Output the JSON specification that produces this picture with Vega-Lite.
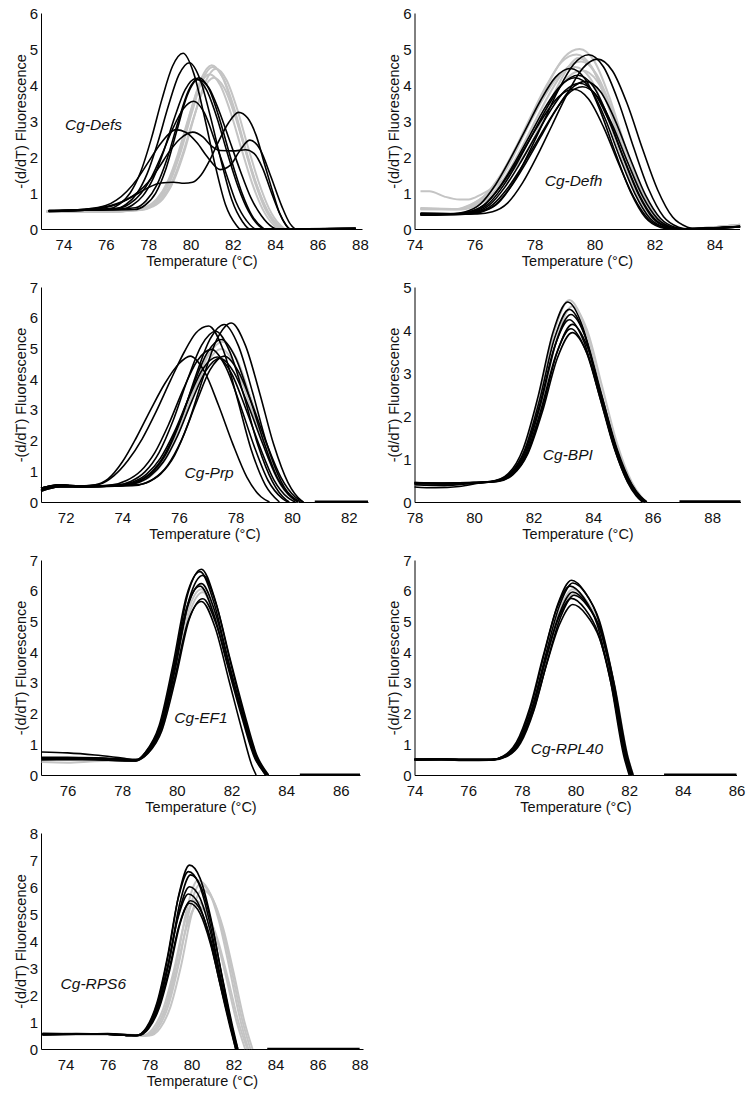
{
"$schema": "https://vega.github.io/schema/vega-lite/v6.json",
"padding": {"left": 13, "top": 6, "right": 5, "bottom": 5},
"config": {
 "view": {"stroke": null},
 "axis": {"grid": false, "ticks": false, "domainColor": "#000", "domainWidth": 1, "labelFont": "Liberation Sans", "titleFont": "Liberation Sans", "labelFontSize": 15, "titleFontSize": 14.5, "titleFontWeight": "normal", "labelColor": "#111", "titleColor": "#111", "labelFlush": false, "labelOverlap": false},
 "axisX": {"labelPadding": 8.5, "titlePadding": 2},
 "axisY": {"labelPadding": 3.5, "titlePadding": 1},
 "text": {"font": "Liberation Sans", "fontStyle": "italic", "fontSize": 15.5, "color": "#111"}
},
"datasets": {
"defs": [
{"c":"g1","t":73.2,"v":0.48},{"c":"g1","t":76,"v":0.48},{"c":"g1","t":77.5,"v":0.53},{"c":"g1","t":78,"v":0.62},{"c":"g1","t":78.5,"v":0.85},{"c":"g1","t":79,"v":1.35},{"c":"g1","t":79.5,"v":2.18},{"c":"g1","t":80,"v":3.24},{"c":"g1","t":80.5,"v":4.17},{"c":"g1","t":81,"v":4.55},{"c":"g1","t":81.5,"v":4.23},{"c":"g1","t":82,"v":3.41},{"c":"g1","t":82.5,"v":2.37},{"c":"g1","t":83,"v":1.37},{"c":"g1","t":83.5,"v":0.59},{"c":"g1","t":84,"v":0.14},{"c":"g1","t":84.3,"v":0},{"c":"g1","t":87.8,"v":0},
{"c":"g2","t":73.2,"v":0.5},{"c":"g2","t":76,"v":0.5},{"c":"g2","t":77.7,"v":0.53},{"c":"g2","t":78.2,"v":0.62},{"c":"g2","t":78.7,"v":0.84},{"c":"g2","t":79.2,"v":1.33},{"c":"g2","t":79.7,"v":2.14},{"c":"g2","t":80.2,"v":3.17},{"c":"g2","t":80.7,"v":4.08},{"c":"g2","t":81.2,"v":4.45},{"c":"g2","t":81.7,"v":4.14},{"c":"g2","t":82.2,"v":3.34},{"c":"g2","t":82.7,"v":2.31},{"c":"g2","t":83.2,"v":1.34},{"c":"g2","t":83.7,"v":0.58},{"c":"g2","t":84.2,"v":0.13},{"c":"g2","t":84.5,"v":0},{"c":"g2","t":87.8,"v":0},
{"c":"g3","t":73.2,"v":0.47},{"c":"g3","t":76,"v":0.47},{"c":"g3","t":77.4,"v":0.53},{"c":"g3","t":77.9,"v":0.61},{"c":"g3","t":78.4,"v":0.83},{"c":"g3","t":78.9,"v":1.29},{"c":"g3","t":79.4,"v":2.07},{"c":"g3","t":79.9,"v":3.07},{"c":"g3","t":80.4,"v":3.95},{"c":"g3","t":80.9,"v":4.3},{"c":"g3","t":81.4,"v":4.0},{"c":"g3","t":81.9,"v":3.23},{"c":"g3","t":82.4,"v":2.24},{"c":"g3","t":82.9,"v":1.29},{"c":"g3","t":83.4,"v":0.56},{"c":"g3","t":83.9,"v":0.13},{"c":"g3","t":84.2,"v":0},{"c":"g3","t":87.8,"v":0},
{"c":"g4","t":73.2,"v":0.49},{"c":"g4","t":76,"v":0.49},{"c":"g4","t":77.6,"v":0.53},{"c":"g4","t":78.1,"v":0.61},{"c":"g4","t":78.6,"v":0.82},{"c":"g4","t":79.1,"v":1.27},{"c":"g4","t":79.6,"v":2.03},{"c":"g4","t":80.1,"v":3.0},{"c":"g4","t":80.6,"v":3.86},{"c":"g4","t":81.1,"v":4.2},{"c":"g4","t":81.6,"v":3.91},{"c":"g4","t":82.1,"v":3.15},{"c":"g4","t":82.6,"v":2.18},{"c":"g4","t":83.1,"v":1.26},{"c":"g4","t":83.6,"v":0.55},{"c":"g4","t":84.1,"v":0.13},{"c":"g4","t":84.4,"v":0},{"c":"g4","t":87.8,"v":0},
{"c":"g5","t":73.2,"v":0.48},{"c":"g5","t":76,"v":0.48},{"c":"g5","t":77.55,"v":0.53},{"c":"g5","t":78.05,"v":0.62},{"c":"g5","t":78.55,"v":0.85},{"c":"g5","t":79.05,"v":1.34},{"c":"g5","t":79.55,"v":2.16},{"c":"g5","t":80.05,"v":3.2},{"c":"g5","t":80.55,"v":4.13},{"c":"g5","t":81.05,"v":4.5},{"c":"g5","t":81.55,"v":4.19},{"c":"g5","t":82.05,"v":3.38},{"c":"g5","t":82.55,"v":2.34},{"c":"g5","t":83.05,"v":1.35},{"c":"g5","t":83.55,"v":0.59},{"c":"g5","t":84.05,"v":0.14},{"c":"g5","t":84.35,"v":0},{"c":"g5","t":87.8,"v":0},
{"c":"b1","t":73.3,"v":0.5},{"c":"b1","t":75,"v":0.52},{"c":"b1","t":76.15,"v":0.56},{"c":"b1","t":76.65,"v":0.69},{"c":"b1","t":77.15,"v":1.0},{"c":"b1","t":77.65,"v":1.59},{"c":"b1","t":78.15,"v":2.51},{"c":"b1","t":78.65,"v":3.6},{"c":"b1","t":79.15,"v":4.52},{"c":"b1","t":79.65,"v":4.88},{"c":"b1","t":80.15,"v":4.33},{"c":"b1","t":80.65,"v":3.14},{"c":"b1","t":81.15,"v":1.81},{"c":"b1","t":81.65,"v":0.68},{"c":"b1","t":82.15,"v":0.12},{"c":"b1","t":82.35,"v":0},{"c":"b1","t":87.8,"v":0.01},
{"c":"b2","t":73.3,"v":0.52},{"c":"b2","t":75,"v":0.53},{"c":"b2","t":76.45,"v":0.56},{"c":"b2","t":76.95,"v":0.68},{"c":"b2","t":77.45,"v":0.97},{"c":"b2","t":77.95,"v":1.53},{"c":"b2","t":78.45,"v":2.39},{"c":"b2","t":78.95,"v":3.41},{"c":"b2","t":79.45,"v":4.28},{"c":"b2","t":79.95,"v":4.62},{"c":"b2","t":80.45,"v":4.16},{"c":"b2","t":80.95,"v":3.1},{"c":"b2","t":81.45,"v":1.89},{"c":"b2","t":81.95,"v":0.81},{"c":"b2","t":82.45,"v":0.21},{"c":"b2","t":82.8,"v":0},{"c":"b2","t":87.8,"v":0.01},
{"c":"b3","t":73.3,"v":0.48},{"c":"b3","t":75,"v":0.52},{"c":"b3","t":76.75,"v":0.55},{"c":"b3","t":77.25,"v":0.66},{"c":"b3","t":77.75,"v":0.92},{"c":"b3","t":78.25,"v":1.42},{"c":"b3","t":78.75,"v":2.19},{"c":"b3","t":79.25,"v":3.1},{"c":"b3","t":79.75,"v":3.87},{"c":"b3","t":80.25,"v":4.18},{"c":"b3","t":80.75,"v":3.87},{"c":"b3","t":81.25,"v":3.09},{"c":"b3","t":81.75,"v":2.09},{"c":"b3","t":82.25,"v":1.17},{"c":"b3","t":82.75,"v":0.48},{"c":"b3","t":83.25,"v":0.08},{"c":"b3","t":83.5,"v":0},{"c":"b3","t":87.8,"v":0.01},
{"c":"b4","t":73.3,"v":0.5},{"c":"b4","t":75,"v":0.52},{"c":"b4","t":77.4,"v":0.59},{"c":"b4","t":77.9,"v":0.78},{"c":"b4","t":78.4,"v":1.21},{"c":"b4","t":78.9,"v":1.96},{"c":"b4","t":79.4,"v":2.95},{"c":"b4","t":79.9,"v":3.84},{"c":"b4","t":80.4,"v":4.2},{"c":"b4","t":80.9,"v":3.86},{"c":"b4","t":81.4,"v":3.0},{"c":"b4","t":81.9,"v":1.97},{"c":"b4","t":82.4,"v":1.05},{"c":"b4","t":82.9,"v":0.38},{"c":"b4","t":83.4,"v":0.04},{"c":"b4","t":83.5,"v":0},{"c":"b4","t":87.8,"v":0.01},
{"c":"b5","t":73.3,"v":0.5},{"c":"b5","t":75,"v":0.52},{"c":"b5","t":77.35,"v":0.54},{"c":"b5","t":77.85,"v":0.66},{"c":"b5","t":78.35,"v":0.99},{"c":"b5","t":78.85,"v":1.69},{"c":"b5","t":79.35,"v":2.72},{"c":"b5","t":79.85,"v":3.72},{"c":"b5","t":80.35,"v":4.15},{"c":"b5","t":80.85,"v":3.94},{"c":"b5","t":81.35,"v":3.28},{"c":"b5","t":81.85,"v":2.45},{"c":"b5","t":82.35,"v":1.62},{"c":"b5","t":82.85,"v":0.87},{"c":"b5","t":83.35,"v":0.37},{"c":"b5","t":83.85,"v":0.06},{"c":"b5","t":84.05,"v":0},{"c":"b5","t":87.8,"v":0.01},
{"c":"b6","t":73.3,"v":0.5},{"c":"b6","t":75,"v":0.53},{"c":"b6","t":76.65,"v":0.58},{"c":"b6","t":77.15,"v":0.71},{"c":"b6","t":77.65,"v":0.98},{"c":"b6","t":78.15,"v":1.43},{"c":"b6","t":78.65,"v":2.07},{"c":"b6","t":79.15,"v":2.77},{"c":"b6","t":79.65,"v":3.33},{"c":"b6","t":80.15,"v":3.55},{"c":"b6","t":80.65,"v":3.23},{"c":"b6","t":81.15,"v":2.45},{"c":"b6","t":81.65,"v":1.6},{"c":"b6","t":82.15,"v":0.75},{"c":"b6","t":82.65,"v":0.23},{"c":"b6","t":83.1,"v":0},{"c":"b6","t":87.8,"v":0.01},
{"c":"b7","t":73.3,"v":0.5},{"c":"b7","t":75,"v":0.55},{"c":"b7","t":76,"v":0.65},{"c":"b7","t":76.5,"v":0.8},{"c":"b7","t":77,"v":1.05},{"c":"b7","t":77.5,"v":1.4},{"c":"b7","t":78,"v":1.85},{"c":"b7","t":78.5,"v":2.3},{"c":"b7","t":79,"v":2.65},{"c":"b7","t":79.3,"v":2.76},{"c":"b7","t":79.8,"v":2.68},{"c":"b7","t":80.3,"v":2.4},{"c":"b7","t":80.8,"v":2.0},{"c":"b7","t":81.4,"v":1.65},{"c":"b7","t":81.9,"v":1.78},{"c":"b7","t":82.3,"v":2.15},{"c":"b7","t":82.8,"v":2.47},{"c":"b7","t":83.3,"v":2.2},{"c":"b7","t":83.8,"v":1.45},{"c":"b7","t":84.3,"v":0.65},{"c":"b7","t":84.7,"v":0.15},{"c":"b7","t":85,"v":0},{"c":"b7","t":87.8,"v":0.01},
{"c":"b8","t":73.3,"v":0.5},{"c":"b8","t":75,"v":0.53},{"c":"b8","t":76,"v":0.6},{"c":"b8","t":76.5,"v":0.68},{"c":"b8","t":77,"v":0.82},{"c":"b8","t":77.5,"v":1.02},{"c":"b8","t":78,"v":1.3},{"c":"b8","t":78.5,"v":1.7},{"c":"b8","t":79,"v":2.15},{"c":"b8","t":79.5,"v":2.5},{"c":"b8","t":80.1,"v":2.69},{"c":"b8","t":80.6,"v":2.55},{"c":"b8","t":81,"v":2.3},{"c":"b8","t":81.4,"v":2.18},{"c":"b8","t":82,"v":2.17},{"c":"b8","t":82.6,"v":2.2},{"c":"b8","t":83,"v":2.1},{"c":"b8","t":83.4,"v":1.7},{"c":"b8","t":83.8,"v":1.05},{"c":"b8","t":84.2,"v":0.45},{"c":"b8","t":84.5,"v":0.12},{"c":"b8","t":84.7,"v":0},{"c":"b8","t":87.8,"v":0.01},
{"c":"b9","t":73.3,"v":0.5},{"c":"b9","t":75,"v":0.55},{"c":"b9","t":76,"v":0.62},{"c":"b9","t":76.5,"v":0.7},{"c":"b9","t":77,"v":0.82},{"c":"b9","t":77.5,"v":0.98},{"c":"b9","t":78,"v":1.15},{"c":"b9","t":78.6,"v":1.28},{"c":"b9","t":79.2,"v":1.3},{"c":"b9","t":79.7,"v":1.27},{"c":"b9","t":80.1,"v":1.3},{"c":"b9","t":80.5,"v":1.5},{"c":"b9","t":80.9,"v":1.9},{"c":"b9","t":81.3,"v":2.4},{"c":"b9","t":81.8,"v":2.95},{"c":"b9","t":82.27,"v":3.24},{"c":"b9","t":82.7,"v":3.08},{"c":"b9","t":83.1,"v":2.6},{"c":"b9","t":83.5,"v":1.8},{"c":"b9","t":83.9,"v":1.0},{"c":"b9","t":84.2,"v":0.45},{"c":"b9","t":84.5,"v":0.12},{"c":"b9","t":84.7,"v":0},{"c":"b9","t":87.8,"v":0.01}
],
"defh": [
{"c":"g1","t":74.2,"v":0.58},{"c":"g1","t":75.5,"v":0.55},{"c":"g1","t":76,"v":0.68},{"c":"g1","t":76.5,"v":0.99},{"c":"g1","t":77,"v":1.57},{"c":"g1","t":77.5,"v":2.37},{"c":"g1","t":78,"v":3.26},{"c":"g1","t":78.5,"v":4.11},{"c":"g1","t":79,"v":4.78},{"c":"g1","t":79.5,"v":5.0},{"c":"g1","t":80,"v":4.65},{"c":"g1","t":80.5,"v":3.65},{"c":"g1","t":81,"v":2.35},{"c":"g1","t":81.5,"v":1.15},{"c":"g1","t":82,"v":0.35},{"c":"g1","t":82.5,"v":0.05},{"c":"g1","t":83,"v":0},{"c":"g1","t":84,"v":0.05},{"c":"g1","t":84.85,"v":0.12},
{"c":"g2","t":74.2,"v":0.57},{"c":"g2","t":75.4,"v":0.55},{"c":"g2","t":75.9,"v":0.68},{"c":"g2","t":76.4,"v":0.98},{"c":"g2","t":76.9,"v":1.54},{"c":"g2","t":77.4,"v":2.31},{"c":"g2","t":77.9,"v":3.17},{"c":"g2","t":78.4,"v":3.99},{"c":"g2","t":78.9,"v":4.64},{"c":"g2","t":79.4,"v":4.85},{"c":"g2","t":79.9,"v":4.51},{"c":"g2","t":80.4,"v":3.54},{"c":"g2","t":80.9,"v":2.28},{"c":"g2","t":81.4,"v":1.12},{"c":"g2","t":81.9,"v":0.34},{"c":"g2","t":82.4,"v":0.05},{"c":"g2","t":82.9,"v":0},{"c":"g2","t":84,"v":0.05},{"c":"g2","t":84.85,"v":0.12},
{"c":"g3","t":74.2,"v":0.56},{"c":"g3","t":75.55,"v":0.55},{"c":"g3","t":76.05,"v":0.67},{"c":"g3","t":76.55,"v":0.94},{"c":"g3","t":77.05,"v":1.49},{"c":"g3","t":77.55,"v":2.23},{"c":"g3","t":78.05,"v":3.05},{"c":"g3","t":78.55,"v":3.83},{"c":"g3","t":79.05,"v":4.45},{"c":"g3","t":79.55,"v":4.65},{"c":"g3","t":80.05,"v":4.32},{"c":"g3","t":80.55,"v":3.39},{"c":"g3","t":81.05,"v":2.19},{"c":"g3","t":81.55,"v":1.07},{"c":"g3","t":82.05,"v":0.33},{"c":"g3","t":82.55,"v":0.05},{"c":"g3","t":83,"v":0},{"c":"g3","t":84,"v":0.05},{"c":"g3","t":84.85,"v":0.11},
{"c":"g4","t":74.2,"v":0.55},{"c":"g4","t":75.35,"v":0.55},{"c":"g4","t":75.85,"v":0.67},{"c":"g4","t":76.35,"v":0.93},{"c":"g4","t":76.85,"v":1.46},{"c":"g4","t":77.35,"v":2.17},{"c":"g4","t":77.85,"v":2.96},{"c":"g4","t":78.35,"v":3.71},{"c":"g4","t":78.85,"v":4.3},{"c":"g4","t":79.35,"v":4.5},{"c":"g4","t":79.85,"v":4.19},{"c":"g4","t":80.35,"v":3.29},{"c":"g4","t":80.85,"v":2.12},{"c":"g4","t":81.35,"v":1.04},{"c":"g4","t":81.85,"v":0.32},{"c":"g4","t":82.35,"v":0.05},{"c":"g4","t":82.8,"v":0},{"c":"g4","t":84,"v":0.04},{"c":"g4","t":84.85,"v":0.1},
{"c":"g5","t":74.2,"v":0.55},{"c":"g5","t":75.6,"v":0.55},{"c":"g5","t":76.1,"v":0.67},{"c":"g5","t":76.6,"v":0.94},{"c":"g5","t":77.1,"v":1.44},{"c":"g5","t":77.6,"v":2.13},{"c":"g5","t":78.1,"v":2.9},{"c":"g5","t":78.6,"v":3.63},{"c":"g5","t":79.1,"v":4.21},{"c":"g5","t":79.6,"v":4.4},{"c":"g5","t":80.1,"v":4.09},{"c":"g5","t":80.6,"v":3.21},{"c":"g5","t":81.1,"v":2.07},{"c":"g5","t":81.6,"v":1.01},{"c":"g5","t":82.1,"v":0.31},{"c":"g5","t":82.6,"v":0.04},{"c":"g5","t":83,"v":0},{"c":"g5","t":84,"v":0.05},{"c":"g5","t":84.85,"v":0.11},
{"c":"g6","t":74.2,"v":1.05},{"c":"g6","t":74.5,"v":1.05},{"c":"g6","t":75,"v":0.9},{"c":"g6","t":75.5,"v":0.82},{"c":"g6","t":75.8,"v":0.82},{"c":"g6","t":76.2,"v":0.95},{"c":"g6","t":76.7,"v":1.2},{"c":"g6","t":77.2,"v":1.55},{"c":"g6","t":77.7,"v":2.1},{"c":"g6","t":78.2,"v":2.9},{"c":"g6","t":78.7,"v":3.85},{"c":"g6","t":79.2,"v":4.58},{"c":"g6","t":79.45,"v":4.75},{"c":"g6","t":79.95,"v":4.42},{"c":"g6","t":80.45,"v":3.47},{"c":"g6","t":80.95,"v":2.23},{"c":"g6","t":81.45,"v":1.09},{"c":"g6","t":81.95,"v":0.33},{"c":"g6","t":82.45,"v":0.05},{"c":"g6","t":82.9,"v":0},{"c":"g6","t":84,"v":0.05},{"c":"g6","t":84.85,"v":0.12},
{"c":"b1","t":74.2,"v":0.4},{"c":"b1","t":75.2,"v":0.42},{"c":"b1","t":75.7,"v":0.48},{"c":"b1","t":76.2,"v":0.7},{"c":"b1","t":76.7,"v":1.23},{"c":"b1","t":77.2,"v":1.96},{"c":"b1","t":77.7,"v":2.76},{"c":"b1","t":78.2,"v":3.57},{"c":"b1","t":78.7,"v":4.22},{"c":"b1","t":79.2,"v":4.46},{"c":"b1","t":79.7,"v":4.15},{"c":"b1","t":80.2,"v":3.26},{"c":"b1","t":80.7,"v":2.1},{"c":"b1","t":81.2,"v":1.03},{"c":"b1","t":81.7,"v":0.31},{"c":"b1","t":82.2,"v":0.04},{"c":"b1","t":82.5,"v":0},{"c":"b1","t":84.85,"v":0.07},
{"c":"b2","t":74.2,"v":0.38},{"c":"b2","t":75.8,"v":0.42},{"c":"b2","t":76.3,"v":0.49},{"c":"b2","t":76.8,"v":0.73},{"c":"b2","t":77.3,"v":1.3},{"c":"b2","t":77.8,"v":2.1},{"c":"b2","t":78.3,"v":2.98},{"c":"b2","t":78.8,"v":3.87},{"c":"b2","t":79.3,"v":4.57},{"c":"b2","t":79.8,"v":4.84},{"c":"b2","t":80.3,"v":4.5},{"c":"b2","t":80.8,"v":3.53},{"c":"b2","t":81.3,"v":2.27},{"c":"b2","t":81.8,"v":1.11},{"c":"b2","t":82.3,"v":0.34},{"c":"b2","t":82.8,"v":0.05},{"c":"b2","t":83.1,"v":0},{"c":"b2","t":84.85,"v":0.07},
{"c":"b3","t":74.2,"v":0.4},{"c":"b3","t":76.1,"v":0.42},{"c":"b3","t":76.6,"v":0.48},{"c":"b3","t":77.1,"v":0.72},{"c":"b3","t":77.6,"v":1.28},{"c":"b3","t":78.1,"v":2.05},{"c":"b3","t":78.6,"v":2.91},{"c":"b3","t":79.1,"v":3.77},{"c":"b3","t":79.6,"v":4.46},{"c":"b3","t":80.1,"v":4.72},{"c":"b3","t":80.6,"v":4.39},{"c":"b3","t":81.1,"v":3.45},{"c":"b3","t":81.6,"v":2.22},{"c":"b3","t":82.1,"v":1.09},{"c":"b3","t":82.6,"v":0.33},{"c":"b3","t":83.1,"v":0.05},{"c":"b3","t":83.4,"v":0},{"c":"b3","t":84.85,"v":0.08},
{"c":"b4","t":74.2,"v":0.42},{"c":"b4","t":75.35,"v":0.42},{"c":"b4","t":75.85,"v":0.48},{"c":"b4","t":76.35,"v":0.68},{"c":"b4","t":76.85,"v":1.18},{"c":"b4","t":77.35,"v":1.86},{"c":"b4","t":77.85,"v":2.61},{"c":"b4","t":78.35,"v":3.37},{"c":"b4","t":78.85,"v":3.97},{"c":"b4","t":79.35,"v":4.2},{"c":"b4","t":79.85,"v":3.91},{"c":"b4","t":80.35,"v":3.07},{"c":"b4","t":80.85,"v":1.97},{"c":"b4","t":81.35,"v":0.97},{"c":"b4","t":81.85,"v":0.29},{"c":"b4","t":82.35,"v":0.04},{"c":"b4","t":82.65,"v":0},{"c":"b4","t":84.85,"v":0.06},
{"c":"b5","t":74.2,"v":0.43},{"c":"b5","t":75.5,"v":0.42},{"c":"b5","t":76,"v":0.47},{"c":"b5","t":76.5,"v":0.67},{"c":"b5","t":77,"v":1.15},{"c":"b5","t":77.5,"v":1.8},{"c":"b5","t":78,"v":2.53},{"c":"b5","t":78.5,"v":3.25},{"c":"b5","t":79,"v":3.83},{"c":"b5","t":79.5,"v":4.05},{"c":"b5","t":80,"v":3.77},{"c":"b5","t":80.5,"v":2.96},{"c":"b5","t":81,"v":1.9},{"c":"b5","t":81.5,"v":0.93},{"c":"b5","t":82,"v":0.28},{"c":"b5","t":82.5,"v":0.04},{"c":"b5","t":82.8,"v":0},{"c":"b5","t":84.85,"v":0.06},
{"c":"b6","t":74.2,"v":0.44},{"c":"b6","t":75.6,"v":0.42},{"c":"b6","t":76.1,"v":0.47},{"c":"b6","t":76.6,"v":0.67},{"c":"b6","t":77.1,"v":1.13},{"c":"b6","t":77.6,"v":1.76},{"c":"b6","t":78.1,"v":2.47},{"c":"b6","t":78.6,"v":3.17},{"c":"b6","t":79.1,"v":3.74},{"c":"b6","t":79.6,"v":3.95},{"c":"b6","t":80.1,"v":3.67},{"c":"b6","t":80.6,"v":2.88},{"c":"b6","t":81.1,"v":1.86},{"c":"b6","t":81.6,"v":0.91},{"c":"b6","t":82.1,"v":0.28},{"c":"b6","t":82.6,"v":0.04},{"c":"b6","t":82.9,"v":0},{"c":"b6","t":84.85,"v":0.06},
{"c":"b7","t":74.2,"v":0.42},{"c":"b7","t":75.3,"v":0.42},{"c":"b7","t":75.8,"v":0.47},{"c":"b7","t":76.3,"v":0.66},{"c":"b7","t":76.8,"v":1.11},{"c":"b7","t":77.3,"v":1.73},{"c":"b7","t":77.8,"v":2.43},{"c":"b7","t":78.3,"v":3.12},{"c":"b7","t":78.8,"v":3.67},{"c":"b7","t":79.3,"v":3.88},{"c":"b7","t":79.8,"v":3.61},{"c":"b7","t":80.3,"v":2.83},{"c":"b7","t":80.8,"v":1.82},{"c":"b7","t":81.3,"v":0.89},{"c":"b7","t":81.8,"v":0.27},{"c":"b7","t":82.3,"v":0.04},{"c":"b7","t":82.6,"v":0},{"c":"b7","t":84.85,"v":0.06},
{"c":"b8","t":74.2,"v":0.41},{"c":"b8","t":75.7,"v":0.42},{"c":"b8","t":76.2,"v":0.48},{"c":"b8","t":76.7,"v":0.68},{"c":"b8","t":77.2,"v":1.16},{"c":"b8","t":77.7,"v":1.82},{"c":"b8","t":78.2,"v":2.55},{"c":"b8","t":78.7,"v":3.29},{"c":"b8","t":79.2,"v":3.88},{"c":"b8","t":79.7,"v":4.1},{"c":"b8","t":80.2,"v":3.81},{"c":"b8","t":80.7,"v":2.99},{"c":"b8","t":81.2,"v":1.93},{"c":"b8","t":81.7,"v":0.94},{"c":"b8","t":82.2,"v":0.29},{"c":"b8","t":82.7,"v":0.04},{"c":"b8","t":83,"v":0},{"c":"b8","t":84.85,"v":0.07},
{"c":"b9","t":74.2,"v":0.4},{"c":"b9","t":75.45,"v":0.42},{"c":"b9","t":75.95,"v":0.48},{"c":"b9","t":76.45,"v":0.69},{"c":"b9","t":76.95,"v":1.19},{"c":"b9","t":77.45,"v":1.88},{"c":"b9","t":77.95,"v":2.65},{"c":"b9","t":78.45,"v":3.42},{"c":"b9","t":78.95,"v":4.04},{"c":"b9","t":79.45,"v":4.27},{"c":"b9","t":79.95,"v":3.97},{"c":"b9","t":80.45,"v":3.12},{"c":"b9","t":80.95,"v":2.01},{"c":"b9","t":81.45,"v":0.98},{"c":"b9","t":81.95,"v":0.29},{"c":"b9","t":82.45,"v":0.04},{"c":"b9","t":82.75,"v":0},{"c":"b9","t":84.85,"v":0.07}
],
"prp": [
{"c":"g1","t":71.13,"v":0.45},{"c":"g1","t":71.8,"v":0.55},{"c":"g1","t":72.5,"v":0.5},{"c":"g1","t":74.05,"v":0.55},{"c":"g1","t":74.55,"v":0.66},{"c":"g1","t":75.05,"v":0.94},{"c":"g1","t":75.55,"v":1.54},{"c":"g1","t":76.05,"v":2.52},{"c":"g1","t":76.55,"v":3.73},{"c":"g1","t":77.05,"v":4.8},{"c":"g1","t":77.55,"v":5.22},{"c":"g1","t":78.05,"v":4.64},{"c":"g1","t":78.55,"v":3.36},{"c":"g1","t":79.05,"v":1.93},{"c":"g1","t":79.55,"v":0.73},{"c":"g1","t":80.05,"v":0.13},{"c":"g1","t":80.25,"v":0},
{"c":"g2","t":71.13,"v":0.4},{"c":"g2","t":71.8,"v":0.5},{"c":"g2","t":72.5,"v":0.5},{"c":"g2","t":74,"v":0.53},{"c":"g2","t":74.5,"v":0.61},{"c":"g2","t":75,"v":0.84},{"c":"g2","t":75.5,"v":1.36},{"c":"g2","t":76,"v":2.27},{"c":"g2","t":76.5,"v":3.47},{"c":"g2","t":77,"v":4.54},{"c":"g2","t":77.5,"v":4.98},{"c":"g2","t":78,"v":4.42},{"c":"g2","t":78.5,"v":3.2},{"c":"g2","t":79,"v":1.84},{"c":"g2","t":79.5,"v":0.7},{"c":"g2","t":80,"v":0.12},{"c":"g2","t":80.2,"v":0},
{"c":"b1","t":71.13,"v":0.45},{"c":"b1","t":71.8,"v":0.56},{"c":"b1","t":72.5,"v":0.52},{"c":"b1","t":73,"v":0.55},{"c":"b1","t":73.5,"v":0.75},{"c":"b1","t":74,"v":1.3},{"c":"b1","t":74.5,"v":2.1},{"c":"b1","t":75,"v":3.0},{"c":"b1","t":75.5,"v":3.85},{"c":"b1","t":76,"v":4.5},{"c":"b1","t":76.4,"v":4.75},{"c":"b1","t":76.9,"v":4.25},{"c":"b1","t":77.4,"v":3.15},{"c":"b1","t":77.9,"v":1.9},{"c":"b1","t":78.4,"v":0.81},{"c":"b1","t":78.9,"v":0.17},{"c":"b1","t":79.2,"v":0},
{"c":"b2","t":71.13,"v":0.45},{"c":"b2","t":71.8,"v":0.55},{"c":"b2","t":72.5,"v":0.52},{"c":"b2","t":73.2,"v":0.58},{"c":"b2","t":73.7,"v":0.85},{"c":"b2","t":74.2,"v":1.35},{"c":"b2","t":74.7,"v":2.05},{"c":"b2","t":75.2,"v":2.95},{"c":"b2","t":75.7,"v":3.95},{"c":"b2","t":76.2,"v":4.9},{"c":"b2","t":76.6,"v":5.5},{"c":"b2","t":77.05,"v":5.73},{"c":"b2","t":77.55,"v":4.99},{"c":"b2","t":78.05,"v":3.42},{"c":"b2","t":78.55,"v":1.72},{"c":"b2","t":79.05,"v":0.56},{"c":"b2","t":79.55,"v":0},
{"c":"b3","t":71.13,"v":0.4},{"c":"b3","t":71.8,"v":0.55},{"c":"b3","t":72.5,"v":0.5},{"c":"b3","t":73.8,"v":0.55},{"c":"b3","t":74.3,"v":0.67},{"c":"b3","t":74.8,"v":0.98},{"c":"b3","t":75.3,"v":1.61},{"c":"b3","t":75.8,"v":2.66},{"c":"b3","t":76.3,"v":3.97},{"c":"b3","t":76.8,"v":5.1},{"c":"b3","t":77.3,"v":5.56},{"c":"b3","t":77.8,"v":4.89},{"c":"b3","t":78.3,"v":3.45},{"c":"b3","t":78.8,"v":1.83},{"c":"b3","t":79.3,"v":0.67},{"c":"b3","t":79.8,"v":0.06},{"c":"b3","t":79.9,"v":0},
{"c":"b4","t":71.13,"v":0.45},{"c":"b4","t":71.8,"v":0.55},{"c":"b4","t":72.5,"v":0.5},{"c":"b4","t":74.1,"v":0.55},{"c":"b4","t":74.6,"v":0.67},{"c":"b4","t":75.1,"v":1.0},{"c":"b4","t":75.6,"v":1.66},{"c":"b4","t":76.1,"v":2.75},{"c":"b4","t":76.6,"v":4.12},{"c":"b4","t":77.1,"v":5.3},{"c":"b4","t":77.6,"v":5.78},{"c":"b4","t":78.1,"v":5.09},{"c":"b4","t":78.6,"v":3.58},{"c":"b4","t":79.1,"v":1.91},{"c":"b4","t":79.6,"v":0.69},{"c":"b4","t":80.1,"v":0.06},{"c":"b4","t":80.2,"v":0},
{"c":"b5","t":71.13,"v":0.35},{"c":"b5","t":71.8,"v":0.5},{"c":"b5","t":72.5,"v":0.5},{"c":"b5","t":74.35,"v":0.53},{"c":"b5","t":74.85,"v":0.63},{"c":"b5","t":75.35,"v":0.91},{"c":"b5","t":75.85,"v":1.52},{"c":"b5","t":76.35,"v":2.61},{"c":"b5","t":76.85,"v":4.03},{"c":"b5","t":77.35,"v":5.31},{"c":"b5","t":77.85,"v":5.83},{"c":"b5","t":78.35,"v":5.1},{"c":"b5","t":78.85,"v":3.56},{"c":"b5","t":79.35,"v":1.87},{"c":"b5","t":79.85,"v":0.64},{"c":"b5","t":80.35,"v":0.03},{"c":"b5","t":80.4,"v":0},
{"c":"b6","t":71.13,"v":0.4},{"c":"b6","t":71.8,"v":0.5},{"c":"b6","t":72.5,"v":0.5},{"c":"b6","t":74,"v":0.55},{"c":"b6","t":74.5,"v":0.66},{"c":"b6","t":75,"v":0.95},{"c":"b6","t":75.5,"v":1.55},{"c":"b6","t":76,"v":2.55},{"c":"b6","t":76.5,"v":3.78},{"c":"b6","t":77,"v":4.86},{"c":"b6","t":77.5,"v":5.29},{"c":"b6","t":78,"v":4.7},{"c":"b6","t":78.5,"v":3.4},{"c":"b6","t":79,"v":1.96},{"c":"b6","t":79.5,"v":0.74},{"c":"b6","t":80,"v":0.13},{"c":"b6","t":80.2,"v":0},
{"c":"b7","t":71.13,"v":0.45},{"c":"b7","t":71.8,"v":0.55},{"c":"b7","t":72.5,"v":0.5},{"c":"b7","t":73.65,"v":0.56},{"c":"b7","t":74.15,"v":0.7},{"c":"b7","t":74.65,"v":1.01},{"c":"b7","t":75.15,"v":1.61},{"c":"b7","t":75.65,"v":2.55},{"c":"b7","t":76.15,"v":3.66},{"c":"b7","t":76.65,"v":4.6},{"c":"b7","t":77.15,"v":4.97},{"c":"b7","t":77.65,"v":4.41},{"c":"b7","t":78.15,"v":3.2},{"c":"b7","t":78.65,"v":1.84},{"c":"b7","t":79.15,"v":0.7},{"c":"b7","t":79.65,"v":0.12},{"c":"b7","t":79.85,"v":0},
{"c":"b8","t":71.13,"v":0.4},{"c":"b8","t":71.8,"v":0.5},{"c":"b8","t":72.5,"v":0.5},{"c":"b8","t":73.85,"v":0.54},{"c":"b8","t":74.35,"v":0.64},{"c":"b8","t":74.85,"v":0.9},{"c":"b8","t":75.35,"v":1.43},{"c":"b8","t":75.85,"v":2.3},{"c":"b8","t":76.35,"v":3.39},{"c":"b8","t":76.85,"v":4.34},{"c":"b8","t":77.35,"v":4.72},{"c":"b8","t":77.85,"v":4.2},{"c":"b8","t":78.35,"v":3.07},{"c":"b8","t":78.85,"v":1.82},{"c":"b8","t":79.35,"v":0.73},{"c":"b8","t":79.85,"v":0.14},{"c":"b8","t":80.1,"v":0},
{"c":"b9","t":71.13,"v":0.35},{"c":"b9","t":71.8,"v":0.5},{"c":"b9","t":72.5,"v":0.5},{"c":"b9","t":73.95,"v":0.53},{"c":"b9","t":74.45,"v":0.6},{"c":"b9","t":74.95,"v":0.82},{"c":"b9","t":75.45,"v":1.3},{"c":"b9","t":75.95,"v":2.15},{"c":"b9","t":76.45,"v":3.27},{"c":"b9","t":76.95,"v":4.27},{"c":"b9","t":77.45,"v":4.68},{"c":"b9","t":77.95,"v":4.21},{"c":"b9","t":78.45,"v":3.14},{"c":"b9","t":78.95,"v":1.92},{"c":"b9","t":79.45,"v":0.82},{"c":"b9","t":79.95,"v":0.21},{"c":"b9","t":80.3,"v":0},
{"c":"b10","t":71.13,"v":0.45},{"c":"b10","t":71.8,"v":0.55},{"c":"b10","t":72.5,"v":0.5},{"c":"b10","t":74.6,"v":0.57},{"c":"b10","t":75.1,"v":0.75},{"c":"b10","t":75.6,"v":1.19},{"c":"b10","t":76.1,"v":2.03},{"c":"b10","t":76.6,"v":3.2},{"c":"b10","t":77.1,"v":4.3},{"c":"b10","t":77.6,"v":4.75},{"c":"b10","t":78.1,"v":4.25},{"c":"b10","t":78.6,"v":3.15},{"c":"b10","t":79.1,"v":1.9},{"c":"b10","t":79.6,"v":0.81},{"c":"b10","t":80.1,"v":0.17},{"c":"b10","t":80.4,"v":0},
{"c":"z","t":80.8,"v":0.02},{"c":"z","t":82.68,"v":0.02}
],
"bpi": [
{"c":"g1","t":78,"v":0.4},{"c":"g1","t":79,"v":0.42},{"c":"g1","t":80,"v":0.45},{"c":"g1","t":80.7,"v":0.49},{"c":"g1","t":81.2,"v":0.67},{"c":"g1","t":81.7,"v":1.25},{"c":"g1","t":82.2,"v":2.47},{"c":"g1","t":82.7,"v":3.98},{"c":"g1","t":83.2,"v":4.7},{"c":"g1","t":83.7,"v":4.12},{"c":"g1","t":84.2,"v":2.77},{"c":"g1","t":84.7,"v":1.41},{"c":"g1","t":85.2,"v":0.47},{"c":"g1","t":85.5,"v":0.14},{"c":"g1","t":85.7,"v":0},
{"c":"g2","t":78,"v":0.42},{"c":"g2","t":80,"v":0.45},{"c":"g2","t":80.8,"v":0.49},{"c":"g2","t":81.3,"v":0.66},{"c":"g2","t":81.8,"v":1.23},{"c":"g2","t":82.3,"v":2.4},{"c":"g2","t":82.8,"v":3.85},{"c":"g2","t":83.3,"v":4.55},{"c":"g2","t":83.8,"v":3.99},{"c":"g2","t":84.3,"v":2.69},{"c":"g2","t":84.8,"v":1.37},{"c":"g2","t":85.3,"v":0.46},{"c":"g2","t":85.6,"v":0.14},{"c":"g2","t":85.8,"v":0},
{"c":"b1","t":78,"v":0.45},{"c":"b1","t":79,"v":0.42},{"c":"b1","t":80,"v":0.45},{"c":"b1","t":80.65,"v":0.49},{"c":"b1","t":81.15,"v":0.66},{"c":"b1","t":81.65,"v":1.24},{"c":"b1","t":82.15,"v":2.45},{"c":"b1","t":82.65,"v":3.94},{"c":"b1","t":83.15,"v":4.65},{"c":"b1","t":83.65,"v":4.07},{"c":"b1","t":84.15,"v":2.74},{"c":"b1","t":84.65,"v":1.4},{"c":"b1","t":85.15,"v":0.47},{"c":"b1","t":85.45,"v":0.14},{"c":"b1","t":85.65,"v":0},
{"c":"b2","t":78,"v":0.4},{"c":"b2","t":79,"v":0.38},{"c":"b2","t":80,"v":0.44},{"c":"b2","t":80.7,"v":0.49},{"c":"b2","t":81.2,"v":0.66},{"c":"b2","t":81.7,"v":1.21},{"c":"b2","t":82.2,"v":2.37},{"c":"b2","t":82.7,"v":3.8},{"c":"b2","t":83.2,"v":4.48},{"c":"b2","t":83.7,"v":3.92},{"c":"b2","t":84.2,"v":2.64},{"c":"b2","t":84.7,"v":1.34},{"c":"b2","t":85.2,"v":0.45},{"c":"b2","t":85.5,"v":0.13},{"c":"b2","t":85.7,"v":0},
{"c":"b3","t":78,"v":0.35},{"c":"b3","t":78.7,"v":0.33},{"c":"b3","t":79.5,"v":0.36},{"c":"b3","t":80.2,"v":0.44},{"c":"b3","t":80.75,"v":0.49},{"c":"b3","t":81.25,"v":0.65},{"c":"b3","t":81.75,"v":1.18},{"c":"b3","t":82.25,"v":2.31},{"c":"b3","t":82.75,"v":3.7},{"c":"b3","t":83.25,"v":4.36},{"c":"b3","t":83.75,"v":3.82},{"c":"b3","t":84.25,"v":2.57},{"c":"b3","t":84.75,"v":1.31},{"c":"b3","t":85.25,"v":0.44},{"c":"b3","t":85.55,"v":0.13},{"c":"b3","t":85.75,"v":0},
{"c":"b4","t":78,"v":0.45},{"c":"b4","t":79,"v":0.44},{"c":"b4","t":80,"v":0.45},{"c":"b4","t":80.7,"v":0.49},{"c":"b4","t":81.2,"v":0.64},{"c":"b4","t":81.7,"v":1.16},{"c":"b4","t":82.2,"v":2.25},{"c":"b4","t":82.7,"v":3.6},{"c":"b4","t":83.2,"v":4.24},{"c":"b4","t":83.7,"v":3.71},{"c":"b4","t":84.2,"v":2.5},{"c":"b4","t":84.7,"v":1.27},{"c":"b4","t":85.2,"v":0.42},{"c":"b4","t":85.5,"v":0.13},{"c":"b4","t":85.7,"v":0},
{"c":"b5","t":78,"v":0.42},{"c":"b5","t":79,"v":0.42},{"c":"b5","t":80,"v":0.44},{"c":"b5","t":80.8,"v":0.49},{"c":"b5","t":81.3,"v":0.64},{"c":"b5","t":81.8,"v":1.14},{"c":"b5","t":82.3,"v":2.2},{"c":"b5","t":82.8,"v":3.5},{"c":"b5","t":83.3,"v":4.13},{"c":"b5","t":83.8,"v":3.62},{"c":"b5","t":84.3,"v":2.44},{"c":"b5","t":84.8,"v":1.24},{"c":"b5","t":85.3,"v":0.41},{"c":"b5","t":85.6,"v":0.12},{"c":"b5","t":85.8,"v":0},
{"c":"b6","t":78,"v":0.43},{"c":"b6","t":79,"v":0.43},{"c":"b6","t":80,"v":0.45},{"c":"b6","t":80.75,"v":0.48},{"c":"b6","t":81.25,"v":0.63},{"c":"b6","t":81.75,"v":1.12},{"c":"b6","t":82.25,"v":2.15},{"c":"b6","t":82.75,"v":3.42},{"c":"b6","t":83.25,"v":4.03},{"c":"b6","t":83.75,"v":3.53},{"c":"b6","t":84.25,"v":2.38},{"c":"b6","t":84.75,"v":1.21},{"c":"b6","t":85.25,"v":0.4},{"c":"b6","t":85.55,"v":0.12},{"c":"b6","t":85.75,"v":0},
{"c":"b7","t":78,"v":0.44},{"c":"b7","t":79,"v":0.44},{"c":"b7","t":80,"v":0.45},{"c":"b7","t":80.8,"v":0.48},{"c":"b7","t":81.3,"v":0.63},{"c":"b7","t":81.8,"v":1.11},{"c":"b7","t":82.3,"v":2.11},{"c":"b7","t":82.8,"v":3.35},{"c":"b7","t":83.3,"v":3.94},{"c":"b7","t":83.8,"v":3.45},{"c":"b7","t":84.3,"v":2.32},{"c":"b7","t":84.8,"v":1.18},{"c":"b7","t":85.3,"v":0.39},{"c":"b7","t":85.6,"v":0.12},{"c":"b7","t":85.8,"v":0},
{"c":"z","t":86.9,"v":0.02},{"c":"z","t":88.95,"v":0.02}
],
"ef1": [
{"c":"g1","t":75.05,"v":0.42},{"c":"g1","t":76,"v":0.4},{"c":"g1","t":77,"v":0.45},{"c":"g1","t":78,"v":0.47},{"c":"g1","t":78.5,"v":0.47},{"c":"g1","t":78.9,"v":0.67},{"c":"g1","t":79.4,"v":1.46},{"c":"g1","t":79.9,"v":3.25},{"c":"g1","t":80.4,"v":5.32},{"c":"g1","t":80.9,"v":6.05},{"c":"g1","t":81.4,"v":5.14},{"c":"g1","t":81.9,"v":3.51},{"c":"g1","t":82.4,"v":1.94},{"c":"g1","t":82.9,"v":0.54},{"c":"g1","t":83.2,"v":0.12},{"c":"g1","t":83.3,"v":0},
{"c":"g2","t":75.05,"v":0.5},{"c":"g2","t":76,"v":0.5},{"c":"g2","t":77,"v":0.5},{"c":"g2","t":78,"v":0.5},{"c":"g2","t":78.5,"v":0.5},{"c":"g2","t":78.95,"v":0.72},{"c":"g2","t":79.45,"v":1.48},{"c":"g2","t":79.95,"v":3.23},{"c":"g2","t":80.45,"v":5.24},{"c":"g2","t":80.95,"v":5.95},{"c":"g2","t":81.45,"v":5.06},{"c":"g2","t":81.95,"v":3.45},{"c":"g2","t":82.45,"v":1.9},{"c":"g2","t":82.95,"v":0.54},{"c":"g2","t":83.25,"v":0.12},{"c":"g2","t":83.35,"v":0},
{"c":"b1","t":75.05,"v":0.75},{"c":"b1","t":76,"v":0.72},{"c":"b1","t":77,"v":0.65},{"c":"b1","t":78,"v":0.55},{"c":"b1","t":78.5,"v":0.5},{"c":"b1","t":78.9,"v":0.75},{"c":"b1","t":79.4,"v":1.62},{"c":"b1","t":79.9,"v":3.6},{"c":"b1","t":80.4,"v":5.89},{"c":"b1","t":80.9,"v":6.7},{"c":"b1","t":81.4,"v":5.7},{"c":"b1","t":81.9,"v":3.89},{"c":"b1","t":82.4,"v":2.14},{"c":"b1","t":82.9,"v":0.6},{"c":"b1","t":83.2,"v":0.13},{"c":"b1","t":83.3,"v":0},
{"c":"b2","t":75.05,"v":0.55},{"c":"b2","t":76,"v":0.55},{"c":"b2","t":77,"v":0.55},{"c":"b2","t":78,"v":0.5},{"c":"b2","t":78.5,"v":0.48},{"c":"b2","t":78.85,"v":0.74},{"c":"b2","t":79.35,"v":1.6},{"c":"b2","t":79.85,"v":3.56},{"c":"b2","t":80.35,"v":5.82},{"c":"b2","t":80.85,"v":6.62},{"c":"b2","t":81.35,"v":5.63},{"c":"b2","t":81.85,"v":3.84},{"c":"b2","t":82.35,"v":2.12},{"c":"b2","t":82.85,"v":0.6},{"c":"b2","t":83.15,"v":0.13},{"c":"b2","t":83.25,"v":0},
{"c":"b3","t":75.05,"v":0.5},{"c":"b3","t":76,"v":0.52},{"c":"b3","t":77,"v":0.52},{"c":"b3","t":78,"v":0.48},{"c":"b3","t":78.5,"v":0.47},{"c":"b3","t":78.95,"v":0.74},{"c":"b3","t":79.45,"v":1.58},{"c":"b3","t":79.95,"v":3.5},{"c":"b3","t":80.45,"v":5.72},{"c":"b3","t":80.95,"v":6.5},{"c":"b3","t":81.45,"v":5.53},{"c":"b3","t":81.95,"v":3.77},{"c":"b3","t":82.45,"v":2.08},{"c":"b3","t":82.95,"v":0.59},{"c":"b3","t":83.25,"v":0.13},{"c":"b3","t":83.35,"v":0},
{"c":"b4","t":75.05,"v":0.55},{"c":"b4","t":76,"v":0.56},{"c":"b4","t":77,"v":0.55},{"c":"b4","t":78,"v":0.5},{"c":"b4","t":78.5,"v":0.48},{"c":"b4","t":78.9,"v":0.73},{"c":"b4","t":79.4,"v":1.53},{"c":"b4","t":79.9,"v":3.37},{"c":"b4","t":80.4,"v":5.49},{"c":"b4","t":80.9,"v":6.23},{"c":"b4","t":81.4,"v":5.3},{"c":"b4","t":81.9,"v":3.61},{"c":"b4","t":82.4,"v":1.99},{"c":"b4","t":82.9,"v":0.56},{"c":"b4","t":83.2,"v":0.12},{"c":"b4","t":83.3,"v":0},
{"c":"b5","t":75.05,"v":0.52},{"c":"b5","t":76,"v":0.52},{"c":"b5","t":77,"v":0.5},{"c":"b5","t":78,"v":0.47},{"c":"b5","t":78.5,"v":0.46},{"c":"b5","t":78.85,"v":0.73},{"c":"b5","t":79.35,"v":1.52},{"c":"b5","t":79.85,"v":3.33},{"c":"b5","t":80.35,"v":5.42},{"c":"b5","t":80.85,"v":6.15},{"c":"b5","t":81.35,"v":5.23},{"c":"b5","t":81.85,"v":3.57},{"c":"b5","t":82.35,"v":1.97},{"c":"b5","t":82.85,"v":0.55},{"c":"b5","t":83.15,"v":0.12},{"c":"b5","t":83.25,"v":0},
{"c":"b6","t":75.05,"v":0.58},{"c":"b6","t":76,"v":0.58},{"c":"b6","t":77,"v":0.56},{"c":"b6","t":78,"v":0.52},{"c":"b6","t":78.5,"v":0.5},{"c":"b6","t":78.95,"v":0.71},{"c":"b6","t":79.45,"v":1.44},{"c":"b6","t":79.95,"v":3.12},{"c":"b6","t":80.45,"v":5.06},{"c":"b6","t":80.95,"v":5.74},{"c":"b6","t":81.45,"v":4.88},{"c":"b6","t":81.95,"v":3.33},{"c":"b6","t":82.45,"v":1.84},{"c":"b6","t":82.95,"v":0.52},{"c":"b6","t":83.25,"v":0.11},{"c":"b6","t":83.35,"v":0},
{"c":"b7","t":75.05,"v":0.5},{"c":"b7","t":76,"v":0.5},{"c":"b7","t":77,"v":0.5},{"c":"b7","t":78,"v":0.46},{"c":"b7","t":78.5,"v":0.46},{"c":"b7","t":78.9,"v":0.71},{"c":"b7","t":79.4,"v":1.43},{"c":"b7","t":79.9,"v":3.08},{"c":"b7","t":80.4,"v":4.98},{"c":"b7","t":80.9,"v":5.65},{"c":"b7","t":81.4,"v":4.8},{"c":"b7","t":81.9,"v":3.1},{"c":"b7","t":82.4,"v":1.4},{"c":"b7","t":82.75,"v":0.3},{"c":"b7","t":82.9,"v":0},
{"c":"z","t":84.5,"v":0.02},{"c":"z","t":86.7,"v":0.02}
],
"rpl": [
{"c":"g1","t":74,"v":0.5},{"c":"g1","t":76,"v":0.5},{"c":"g1","t":76.9,"v":0.5},{"c":"g1","t":77.4,"v":0.61},{"c":"g1","t":77.9,"v":1.06},{"c":"g1","t":78.4,"v":2.17},{"c":"g1","t":78.9,"v":3.83},{"c":"g1","t":79.4,"v":5.33},{"c":"g1","t":79.9,"v":6.05},{"c":"g1","t":80.4,"v":5.69},{"c":"g1","t":80.9,"v":4.84},{"c":"g1","t":81.4,"v":3.03},{"c":"g1","t":81.9,"v":0.61},{"c":"g1","t":82.1,"v":0},
{"c":"g2","t":74,"v":0.5},{"c":"g2","t":76,"v":0.5},{"c":"g2","t":76.95,"v":0.5},{"c":"g2","t":77.45,"v":0.61},{"c":"g2","t":77.95,"v":1.04},{"c":"g2","t":78.45,"v":2.12},{"c":"g2","t":78.95,"v":3.74},{"c":"g2","t":79.45,"v":5.2},{"c":"g2","t":79.95,"v":5.9},{"c":"g2","t":80.45,"v":5.55},{"c":"g2","t":80.95,"v":4.72},{"c":"g2","t":81.45,"v":2.95},{"c":"g2","t":81.95,"v":0.59},{"c":"g2","t":82.15,"v":0},
{"c":"b1","t":74,"v":0.5},{"c":"b1","t":75,"v":0.52},{"c":"b1","t":76,"v":0.5},{"c":"b1","t":76.85,"v":0.5},{"c":"b1","t":77.35,"v":0.62},{"c":"b1","t":77.85,"v":1.08},{"c":"b1","t":78.35,"v":2.25},{"c":"b1","t":78.85,"v":4.0},{"c":"b1","t":79.35,"v":5.58},{"c":"b1","t":79.85,"v":6.34},{"c":"b1","t":80.35,"v":5.96},{"c":"b1","t":80.85,"v":5.07},{"c":"b1","t":81.35,"v":3.17},{"c":"b1","t":81.85,"v":0.63},{"c":"b1","t":82.05,"v":0},
{"c":"b2","t":74,"v":0.52},{"c":"b2","t":75,"v":0.53},{"c":"b2","t":76,"v":0.5},{"c":"b2","t":76.9,"v":0.5},{"c":"b2","t":77.4,"v":0.62},{"c":"b2","t":77.9,"v":1.08},{"c":"b2","t":78.4,"v":2.23},{"c":"b2","t":78.9,"v":3.95},{"c":"b2","t":79.4,"v":5.5},{"c":"b2","t":79.9,"v":6.25},{"c":"b2","t":80.4,"v":5.88},{"c":"b2","t":80.9,"v":5.0},{"c":"b2","t":81.4,"v":3.13},{"c":"b2","t":81.9,"v":0.63},{"c":"b2","t":82.1,"v":0},
{"c":"b3","t":74,"v":0.48},{"c":"b3","t":75,"v":0.5},{"c":"b3","t":76,"v":0.47},{"c":"b3","t":76.8,"v":0.48},{"c":"b3","t":77.3,"v":0.61},{"c":"b3","t":77.8,"v":1.07},{"c":"b3","t":78.3,"v":2.2},{"c":"b3","t":78.8,"v":3.89},{"c":"b3","t":79.3,"v":5.42},{"c":"b3","t":79.8,"v":6.15},{"c":"b3","t":80.3,"v":5.78},{"c":"b3","t":80.8,"v":4.92},{"c":"b3","t":81.3,"v":3.08},{"c":"b3","t":81.8,"v":0.62},{"c":"b3","t":82,"v":0},
{"c":"b4","t":74,"v":0.5},{"c":"b4","t":75,"v":0.5},{"c":"b4","t":76,"v":0.48},{"c":"b4","t":76.9,"v":0.5},{"c":"b4","t":77.4,"v":0.61},{"c":"b4","t":77.9,"v":1.05},{"c":"b4","t":78.4,"v":2.14},{"c":"b4","t":78.9,"v":3.78},{"c":"b4","t":79.4,"v":5.25},{"c":"b4","t":79.9,"v":5.96},{"c":"b4","t":80.4,"v":5.6},{"c":"b4","t":80.9,"v":4.77},{"c":"b4","t":81.4,"v":2.98},{"c":"b4","t":81.9,"v":0.6},{"c":"b4","t":82.1,"v":0},
{"c":"b5","t":74,"v":0.5},{"c":"b5","t":75,"v":0.51},{"c":"b5","t":76,"v":0.5},{"c":"b5","t":76.95,"v":0.5},{"c":"b5","t":77.45,"v":0.61},{"c":"b5","t":77.95,"v":1.04},{"c":"b5","t":78.45,"v":2.11},{"c":"b5","t":78.95,"v":3.71},{"c":"b5","t":79.45,"v":5.15},{"c":"b5","t":79.95,"v":5.85},{"c":"b5","t":80.45,"v":5.5},{"c":"b5","t":80.95,"v":4.68},{"c":"b5","t":81.45,"v":2.93},{"c":"b5","t":81.95,"v":0.59},{"c":"b5","t":82.15,"v":0},
{"c":"b6","t":74,"v":0.52},{"c":"b6","t":75,"v":0.52},{"c":"b6","t":76,"v":0.5},{"c":"b6","t":76.85,"v":0.5},{"c":"b6","t":77.35,"v":0.61},{"c":"b6","t":77.85,"v":1.03},{"c":"b6","t":78.35,"v":2.08},{"c":"b6","t":78.85,"v":3.65},{"c":"b6","t":79.35,"v":5.07},{"c":"b6","t":79.85,"v":5.75},{"c":"b6","t":80.35,"v":5.41},{"c":"b6","t":80.85,"v":4.6},{"c":"b6","t":81.35,"v":2.88},{"c":"b6","t":81.85,"v":0.58},{"c":"b6","t":82.05,"v":0},
{"c":"b7","t":74,"v":0.5},{"c":"b7","t":75,"v":0.5},{"c":"b7","t":76,"v":0.5},{"c":"b7","t":76.9,"v":0.5},{"c":"b7","t":77.4,"v":0.6},{"c":"b7","t":77.9,"v":1.01},{"c":"b7","t":78.4,"v":2.02},{"c":"b7","t":78.9,"v":3.53},{"c":"b7","t":79.4,"v":4.89},{"c":"b7","t":79.9,"v":5.55},{"c":"b7","t":80.4,"v":5.22},{"c":"b7","t":80.9,"v":4.44},{"c":"b7","t":81.4,"v":2.78},{"c":"b7","t":81.9,"v":0.56},{"c":"b7","t":82.1,"v":0},
{"c":"z","t":83.3,"v":0.02},{"c":"z","t":86,"v":0.02}
],
"rps": [
{"c":"g1","t":72.9,"v":0.55},{"c":"g1","t":76,"v":0.55},{"c":"g1","t":77.3,"v":0.5},{"c":"g1","t":77.8,"v":0.5},{"c":"g1","t":78.3,"v":0.79},{"c":"g1","t":78.8,"v":1.65},{"c":"g1","t":79.3,"v":3.26},{"c":"g1","t":79.8,"v":5.27},{"c":"g1","t":80.3,"v":6.25},{"c":"g1","t":80.8,"v":5.88},{"c":"g1","t":81.3,"v":4.75},{"c":"g1","t":81.8,"v":3.0},{"c":"g1","t":82.3,"v":1.13},{"c":"g1","t":82.7,"v":0},
{"c":"g2","t":72.9,"v":0.55},{"c":"g2","t":76,"v":0.55},{"c":"g2","t":77.3,"v":0.5},{"c":"g2","t":77.9,"v":0.5},{"c":"g2","t":78.4,"v":0.78},{"c":"g2","t":78.9,"v":1.62},{"c":"g2","t":79.4,"v":3.19},{"c":"g2","t":79.9,"v":5.15},{"c":"g2","t":80.4,"v":6.1},{"c":"g2","t":80.9,"v":5.73},{"c":"g2","t":81.4,"v":4.64},{"c":"g2","t":81.9,"v":2.93},{"c":"g2","t":82.4,"v":1.1},{"c":"g2","t":82.8,"v":0},
{"c":"g3","t":72.9,"v":0.55},{"c":"g3","t":76,"v":0.55},{"c":"g3","t":77.65,"v":0.5},{"c":"g3","t":78.15,"v":0.75},{"c":"g3","t":78.65,"v":1.5},{"c":"g3","t":79.15,"v":2.9},{"c":"g3","t":79.65,"v":4.65},{"c":"g3","t":80.15,"v":5.5},{"c":"g3","t":80.65,"v":5.17},{"c":"g3","t":81.15,"v":4.18},{"c":"g3","t":81.65,"v":2.64},{"c":"g3","t":82.15,"v":0.99},{"c":"g3","t":82.55,"v":0},
{"c":"g4","t":72.9,"v":0.55},{"c":"g4","t":76,"v":0.55},{"c":"g4","t":78,"v":0.5},{"c":"g4","t":78.5,"v":0.77},{"c":"g4","t":79,"v":1.58},{"c":"g4","t":79.5,"v":3.09},{"c":"g4","t":80,"v":4.98},{"c":"g4","t":80.5,"v":5.9},{"c":"g4","t":81,"v":5.55},{"c":"g4","t":81.5,"v":4.48},{"c":"g4","t":82,"v":2.83},{"c":"g4","t":82.5,"v":1.06},{"c":"g4","t":82.9,"v":0},
{"c":"g5","t":72.9,"v":0.55},{"c":"g5","t":76,"v":0.55},{"c":"g5","t":77.75,"v":0.5},{"c":"g5","t":78.25,"v":0.74},{"c":"g5","t":78.75,"v":1.46},{"c":"g5","t":79.25,"v":2.8},{"c":"g5","t":79.75,"v":4.48},{"c":"g5","t":80.25,"v":5.3},{"c":"g5","t":80.75,"v":4.98},{"c":"g5","t":81.25,"v":4.03},{"c":"g5","t":81.75,"v":2.54},{"c":"g5","t":82.25,"v":0.95},{"c":"g5","t":82.65,"v":0},
{"c":"b1","t":72.9,"v":0.55},{"c":"b1","t":74.5,"v":0.57},{"c":"b1","t":76,"v":0.55},{"c":"b1","t":77,"v":0.5},{"c":"b1","t":77.4,"v":0.5},{"c":"b1","t":77.9,"v":0.82},{"c":"b1","t":78.4,"v":1.76},{"c":"b1","t":78.9,"v":3.53},{"c":"b1","t":79.4,"v":5.74},{"c":"b1","t":79.9,"v":6.81},{"c":"b1","t":80.4,"v":6.33},{"c":"b1","t":80.9,"v":4.9},{"c":"b1","t":81.4,"v":2.86},{"c":"b1","t":81.9,"v":0.89},{"c":"b1","t":82.15,"v":0},
{"c":"b2","t":72.9,"v":0.52},{"c":"b2","t":74.5,"v":0.55},{"c":"b2","t":76,"v":0.55},{"c":"b2","t":77,"v":0.5},{"c":"b2","t":77.35,"v":0.5},{"c":"b2","t":77.85,"v":0.8},{"c":"b2","t":78.35,"v":1.71},{"c":"b2","t":78.85,"v":3.41},{"c":"b2","t":79.35,"v":5.54},{"c":"b2","t":79.85,"v":6.57},{"c":"b2","t":80.35,"v":6.11},{"c":"b2","t":80.85,"v":4.73},{"c":"b2","t":81.35,"v":2.76},{"c":"b2","t":81.85,"v":0.85},{"c":"b2","t":82.1,"v":0},
{"c":"b3","t":72.9,"v":0.55},{"c":"b3","t":74.5,"v":0.55},{"c":"b3","t":76,"v":0.57},{"c":"b3","t":77,"v":0.52},{"c":"b3","t":77.45,"v":0.5},{"c":"b3","t":77.95,"v":0.8},{"c":"b3","t":78.45,"v":1.69},{"c":"b3","t":78.95,"v":3.36},{"c":"b3","t":79.45,"v":5.44},{"c":"b3","t":79.95,"v":6.45},{"c":"b3","t":80.45,"v":6.0},{"c":"b3","t":80.95,"v":4.64},{"c":"b3","t":81.45,"v":2.71},{"c":"b3","t":81.95,"v":0.84},{"c":"b3","t":82.2,"v":0},
{"c":"b4","t":72.9,"v":0.55},{"c":"b4","t":74.5,"v":0.55},{"c":"b4","t":76,"v":0.55},{"c":"b4","t":77,"v":0.5},{"c":"b4","t":77.4,"v":0.5},{"c":"b4","t":77.9,"v":0.78},{"c":"b4","t":78.4,"v":1.6},{"c":"b4","t":78.9,"v":3.14},{"c":"b4","t":79.4,"v":5.07},{"c":"b4","t":79.9,"v":6.01},{"c":"b4","t":80.4,"v":5.59},{"c":"b4","t":80.9,"v":4.33},{"c":"b4","t":81.4,"v":2.52},{"c":"b4","t":81.9,"v":0.78},{"c":"b4","t":82.15,"v":0},
{"c":"b5","t":72.9,"v":0.58},{"c":"b5","t":74.5,"v":0.56},{"c":"b5","t":76,"v":0.55},{"c":"b5","t":77,"v":0.52},{"c":"b5","t":77.35,"v":0.5},{"c":"b5","t":77.85,"v":0.76},{"c":"b5","t":78.35,"v":1.55},{"c":"b5","t":78.85,"v":3.02},{"c":"b5","t":79.35,"v":4.85},{"c":"b5","t":79.85,"v":5.74},{"c":"b5","t":80.35,"v":5.34},{"c":"b5","t":80.85,"v":4.13},{"c":"b5","t":81.35,"v":2.41},{"c":"b5","t":81.85,"v":0.75},{"c":"b5","t":82.1,"v":0},
{"c":"b6","t":72.9,"v":0.55},{"c":"b6","t":74.5,"v":0.55},{"c":"b6","t":76,"v":0.55},{"c":"b6","t":77,"v":0.5},{"c":"b6","t":77.45,"v":0.5},{"c":"b6","t":77.95,"v":0.75},{"c":"b6","t":78.45,"v":1.5},{"c":"b6","t":78.95,"v":2.9},{"c":"b6","t":79.45,"v":4.64},{"c":"b6","t":79.95,"v":5.49},{"c":"b6","t":80.45,"v":5.11},{"c":"b6","t":80.95,"v":3.95},{"c":"b6","t":81.45,"v":2.31},{"c":"b6","t":81.95,"v":0.71},{"c":"b6","t":82.2,"v":0},
{"c":"b7","t":72.9,"v":0.52},{"c":"b7","t":74.5,"v":0.55},{"c":"b7","t":76,"v":0.55},{"c":"b7","t":77,"v":0.5},{"c":"b7","t":77.4,"v":0.5},{"c":"b7","t":77.9,"v":0.75},{"c":"b7","t":78.4,"v":1.48},{"c":"b7","t":78.9,"v":2.85},{"c":"b7","t":79.4,"v":4.57},{"c":"b7","t":79.9,"v":5.4},{"c":"b7","t":80.4,"v":5.02},{"c":"b7","t":80.9,"v":3.89},{"c":"b7","t":81.4,"v":2.27},{"c":"b7","t":81.9,"v":0.7},{"c":"b7","t":82.15,"v":0},
{"c":"z","t":83.6,"v":0.02},{"c":"z","t":88,"v":0.02}
]
},
"concat": [
{"width": 321, "height": 216, "layer": [
 {"data": {"name": "defs"}, "transform": [{"filter": "indexof(datum.c,'g')==0"}], "mark": {"type": "line", "color": "#c4c4c4", "strokeWidth": 2, "interpolate": "monotone"},
  "encoding": {"x": {"field": "t", "type": "quantitative", "scale": {"domain": [72.94, 88.1], "nice": false, "zero": false}, "axis": {"values": [74,76,78,80,82,84,86,88], "format": "d", "tickCount": 30, "labelOverlap": false, "title": "Temperature (°C)"}},
   "y": {"field": "v", "type": "quantitative", "scale": {"domain": [0, 6], "nice": false}, "axis": {"values": [0,1,2,3,4,5,6], "format": "d", "tickCount": 30, "labelOverlap": false, "title": "-(d/dT) Fluorescence"}}, "detail": {"field": "c"}}},
 {"data": {"name": "defs"}, "transform": [{"filter": "indexof(datum.c,'g')!=0"}], "mark": {"type": "line", "color": "#000", "strokeWidth": 1.6, "interpolate": "monotone"},
  "encoding": {"x": {"field": "t", "type": "quantitative"}, "y": {"field": "v", "type": "quantitative"}, "detail": {"field": "c"}}},
 {"data": {"values": [{"t": 75.42, "v": 2.9, "s": "Cg-Defs"}]}, "mark": {"type": "text"}, "encoding": {"x": {"field": "t", "type": "quantitative"}, "y": {"field": "v", "type": "quantitative"}, "text": {"field": "s"}}}
]},
{"width": 325, "height": 216, "layer": [
 {"data": {"name": "defh"}, "transform": [{"filter": "indexof(datum.c,'g')==0"}], "mark": {"type": "line", "color": "#c4c4c4", "strokeWidth": 2, "interpolate": "monotone"},
  "encoding": {"x": {"field": "t", "type": "quantitative", "scale": {"domain": [74, 84.83], "nice": false, "zero": false}, "axis": {"values": [74,76,78,80,82,84], "format": "d", "tickCount": 30, "labelOverlap": false, "title": "Temperature (°C)"}},
   "y": {"field": "v", "type": "quantitative", "scale": {"domain": [0, 6], "nice": false}, "axis": {"values": [0,1,2,3,4,5,6], "format": "d", "tickCount": 30, "labelOverlap": false, "title": "-(d/dT) Fluorescence"}}, "detail": {"field": "c"}}},
 {"data": {"name": "defh"}, "transform": [{"filter": "indexof(datum.c,'g')!=0"}], "mark": {"type": "line", "color": "#000", "strokeWidth": 1.6, "interpolate": "monotone"},
  "encoding": {"x": {"field": "t", "type": "quantitative"}, "y": {"field": "v", "type": "quantitative"}, "detail": {"field": "c"}}},
 {"data": {"values": [{"t": 79.3, "v": 1.33, "s": "Cg-Defh"}]}, "mark": {"type": "text"}, "encoding": {"x": {"field": "t", "type": "quantitative"}, "y": {"field": "v", "type": "quantitative"}, "text": {"field": "s"}}}
]},
{"width": 327, "height": 215, "layer": [
 {"data": {"name": "prp"}, "transform": [{"filter": "indexof(datum.c,'g')==0"}], "mark": {"type": "line", "color": "#c4c4c4", "strokeWidth": 2, "interpolate": "monotone"},
  "encoding": {"x": {"field": "t", "type": "quantitative", "scale": {"domain": [71.13, 82.68], "nice": false, "zero": false}, "axis": {"values": [72,74,76,78,80,82], "format": "d", "tickCount": 30, "labelOverlap": false, "title": "Temperature (°C)"}},
   "y": {"field": "v", "type": "quantitative", "scale": {"domain": [0, 7], "nice": false}, "axis": {"values": [0,1,2,3,4,5,6,7], "format": "d", "tickCount": 30, "labelOverlap": false, "title": "-(d/dT) Fluorescence"}}, "detail": {"field": "c"}}},
 {"data": {"name": "prp"}, "transform": [{"filter": "indexof(datum.c,'g')!=0"}], "mark": {"type": "line", "color": "#000", "strokeWidth": 1.6, "interpolate": "monotone"},
  "encoding": {"x": {"field": "t", "type": "quantitative"}, "y": {"field": "v", "type": "quantitative"}, "detail": {"field": "c"}}},
 {"data": {"values": [{"t": 77.07, "v": 0.94, "s": "Cg-Prp"}]}, "mark": {"type": "text"}, "encoding": {"x": {"field": "t", "type": "quantitative"}, "y": {"field": "v", "type": "quantitative"}, "text": {"field": "s"}}}
]},
{"width": 326, "height": 215, "layer": [
 {"data": {"name": "bpi"}, "transform": [{"filter": "indexof(datum.c,'g')==0"}], "mark": {"type": "line", "color": "#c4c4c4", "strokeWidth": 2, "interpolate": "monotone"},
  "encoding": {"x": {"field": "t", "type": "quantitative", "scale": {"domain": [78, 88.95], "nice": false, "zero": false}, "axis": {"values": [78,80,82,84,86,88], "format": "d", "tickCount": 30, "labelOverlap": false, "title": "Temperature (°C)"}},
   "y": {"field": "v", "type": "quantitative", "scale": {"domain": [0, 5], "nice": false}, "axis": {"values": [0,1,2,3,4,5], "format": "d", "tickCount": 30, "labelOverlap": false, "title": "-(d/dT) Fluorescence"}}, "detail": {"field": "c"}}},
 {"data": {"name": "bpi"}, "transform": [{"filter": "indexof(datum.c,'g')!=0"}], "mark": {"type": "line", "color": "#000", "strokeWidth": 1.6, "interpolate": "monotone"},
  "encoding": {"x": {"field": "t", "type": "quantitative"}, "y": {"field": "v", "type": "quantitative"}, "detail": {"field": "c"}}},
 {"data": {"values": [{"t": 83.15, "v": 1.1, "s": "Cg-BPI"}]}, "mark": {"type": "text"}, "encoding": {"x": {"field": "t", "type": "quantitative"}, "y": {"field": "v", "type": "quantitative"}, "text": {"field": "s"}}}
]},
{"width": 319, "height": 215, "layer": [
 {"data": {"name": "ef1"}, "transform": [{"filter": "indexof(datum.c,'g')==0"}], "mark": {"type": "line", "color": "#c4c4c4", "strokeWidth": 2, "interpolate": "monotone"},
  "encoding": {"x": {"field": "t", "type": "quantitative", "scale": {"domain": [75.03, 86.7], "nice": false, "zero": false}, "axis": {"values": [76,78,80,82,84,86], "format": "d", "tickCount": 30, "labelOverlap": false, "title": "Temperature (°C)"}},
   "y": {"field": "v", "type": "quantitative", "scale": {"domain": [0, 7], "nice": false}, "axis": {"values": [0,1,2,3,4,5,6,7], "format": "d", "tickCount": 30, "labelOverlap": false, "title": "-(d/dT) Fluorescence"}}, "detail": {"field": "c"}}},
 {"data": {"name": "ef1"}, "transform": [{"filter": "indexof(datum.c,'g')!=0"}], "mark": {"type": "line", "color": "#000", "strokeWidth": 1.6, "interpolate": "monotone"},
  "encoding": {"x": {"field": "t", "type": "quantitative"}, "y": {"field": "v", "type": "quantitative"}, "detail": {"field": "c"}}},
 {"data": {"values": [{"t": 80.88, "v": 1.86, "s": "Cg-EF1"}]}, "mark": {"type": "text"}, "encoding": {"x": {"field": "t", "type": "quantitative"}, "y": {"field": "v", "type": "quantitative"}, "text": {"field": "s"}}}
]},
{"width": 322, "height": 215, "layer": [
 {"data": {"name": "rpl"}, "transform": [{"filter": "indexof(datum.c,'g')==0"}], "mark": {"type": "line", "color": "#c4c4c4", "strokeWidth": 2, "interpolate": "monotone"},
  "encoding": {"x": {"field": "t", "type": "quantitative", "scale": {"domain": [74, 86], "nice": false, "zero": false}, "axis": {"values": [74,76,78,80,82,84,86], "format": "d", "tickCount": 30, "labelOverlap": false, "title": "Temperature (°C)"}},
   "y": {"field": "v", "type": "quantitative", "scale": {"domain": [0, 7], "nice": false}, "axis": {"values": [0,1,2,3,4,5,6,7], "format": "d", "tickCount": 30, "labelOverlap": false, "title": "-(d/dT) Fluorescence"}}, "detail": {"field": "c"}}},
 {"data": {"name": "rpl"}, "transform": [{"filter": "indexof(datum.c,'g')!=0"}], "mark": {"type": "line", "color": "#000", "strokeWidth": 1.6, "interpolate": "monotone"},
  "encoding": {"x": {"field": "t", "type": "quantitative"}, "y": {"field": "v", "type": "quantitative"}, "detail": {"field": "c"}}},
 {"data": {"values": [{"t": 79.68, "v": 0.85, "s": "Cg-RPL40"}]}, "mark": {"type": "text"}, "encoding": {"x": {"field": "t", "type": "quantitative"}, "y": {"field": "v", "type": "quantitative"}, "text": {"field": "s"}}}
]},
{"width": 322, "height": 216, "layer": [
 {"data": {"name": "rps"}, "transform": [{"filter": "indexof(datum.c,'g')==0"}], "mark": {"type": "line", "color": "#c4c4c4", "strokeWidth": 2, "interpolate": "monotone"},
  "encoding": {"x": {"field": "t", "type": "quantitative", "scale": {"domain": [72.83, 88.16], "nice": false, "zero": false}, "axis": {"values": [74,76,78,80,82,84,86,88], "format": "d", "tickCount": 30, "labelOverlap": false, "title": "Temperature (°C)"}},
   "y": {"field": "v", "type": "quantitative", "scale": {"domain": [0, 8], "nice": false}, "axis": {"values": [0,1,2,3,4,5,6,7,8], "format": "d", "tickCount": 30, "labelOverlap": false, "title": "-(d/dT) Fluorescence"}}, "detail": {"field": "c"}}},
 {"data": {"name": "rps"}, "transform": [{"filter": "indexof(datum.c,'g')!=0"}], "mark": {"type": "line", "color": "#000", "strokeWidth": 1.6, "interpolate": "monotone"},
  "encoding": {"x": {"field": "t", "type": "quantitative"}, "y": {"field": "v", "type": "quantitative"}, "detail": {"field": "c"}}},
 {"data": {"values": [{"t": 75.32, "v": 2.41, "s": "Cg-RPS6"}]}, "mark": {"type": "text"}, "encoding": {"x": {"field": "t", "type": "quantitative"}, "y": {"field": "v", "type": "quantitative"}, "text": {"field": "s"}}}
]}
],
"columns": 2,
"spacing": {"row": 58, "column": 46.5},
"bounds": "flush"
}
